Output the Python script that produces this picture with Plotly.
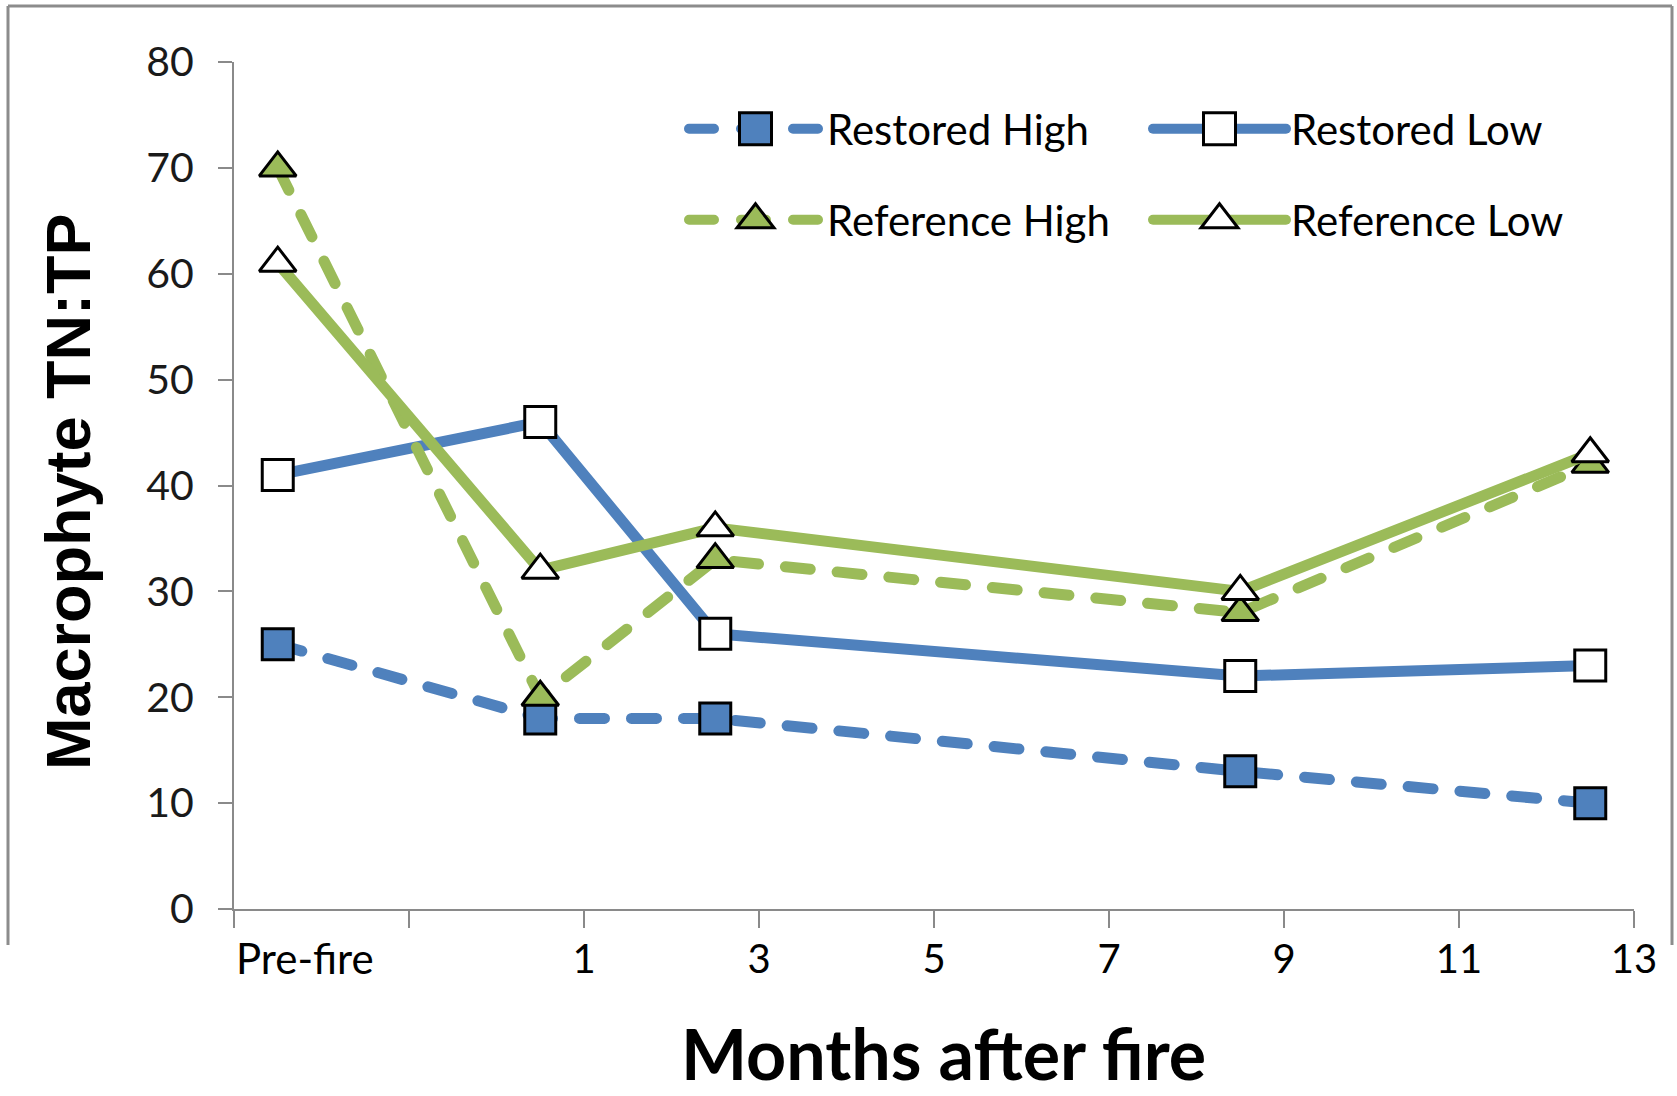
import plotly.graph_objects as go

# Sampling times (months after fire; pre-fire sample plotted at -2.5)
months = [-2.5, 0.5, 2.5, 8.5, 12.5]

# Macrophyte TN:TP ratios per site group
restored_high = [25, 18, 18, 13, 10]
restored_low = [41, 46, 26, 22, 23]
reference_high = [70, 20, 33, 28, 42]
reference_low = [61, 32, 36, 30, 43]

series_names = ["Restored High", "Restored Low", "Reference High", "Reference Low"]

x_tick_vals = [-3, -1, 1, 3, 5, 7, 9, 11, 13]
x_tick_text = ["", "", "1", "3", "5", "7", "9", "11", "13"]
y_tick_vals = [0, 10, 20, 30, 40, 50, 60, 70, 80]

BLUE = "#4f81bd"
GREEN = "#9bbb59"
AXIS_GREY = "#8a8a8a"
DASH = "25px,27px"  # drawn with round caps, so dashes look ~36px with ~16px gaps

W, H = 1677, 1096
ML, MR, MT, MB = 234, 43, 62, 187
PW, PH = W - ML - MR, H - MT - MB


def px_x(p):
    return (p - ML) / PW


def px_y(p):
    return (H - MB - p) / PH


styles = [
    dict(values=restored_high, color=BLUE, dash=DASH, symbol="square", fill=BLUE, legend="legend"),
    dict(values=restored_low, color=BLUE, dash="solid", symbol="square", fill="white", legend="legend"),
    dict(values=reference_high, color=GREEN, dash=DASH, symbol="triangle-up", fill=GREEN, legend="legend2"),
    dict(values=reference_low, color=GREEN, dash="solid", symbol="triangle-up", fill="white", legend="legend2"),
]

fig = go.Figure()
for name, st in zip(series_names, styles):
    fig.add_trace(go.Scatter(
        x=months,
        y=st["values"],
        name=name,
        mode="lines+markers",
        line=dict(color=st["color"], width=11, dash=st["dash"]),
        marker=dict(symbol=st["symbol"], size=31 if st["symbol"] == "square" else 32,
                    color=st["fill"], line=dict(color="black", width=3)),
        cliponaxis=False,
        legend=st["legend"],
    ))

axis_common = dict(
    showgrid=False,
    zeroline=False,
    showline=True,
    linecolor=AXIS_GREY,
    linewidth=2,
    ticks="outside",
    tickcolor=AXIS_GREY,
    tickwidth=2,
)

fig.update_xaxes(
    range=[-3, 13],
    tickmode="array",
    tickvals=x_tick_vals,
    ticktext=x_tick_text,
    ticklen=17,
    tickfont=dict(family="Lato, Open Sans, sans-serif", size=40, color="black"),
    ticklabelstandoff=-3,
    **axis_common,
)
fig.update_yaxes(
    range=[0, 80],
    tickmode="array",
    tickvals=y_tick_vals,
    ticklen=14,
    tickfont=dict(family="Lato, Open Sans, sans-serif", size=41, color="#1a1a1a"),
    ticklabelstandoff=16,
    **axis_common,
)

legend_common = dict(
    orientation="h",
    xanchor="left",
    yanchor="middle",
    font=dict(family="Lato, Open Sans, sans-serif", size=42, color="black"),
    itemwidth=133,
    entrywidth=316,
    bgcolor="rgba(0,0,0,0)",
    borderwidth=0,
    itemclick=False,
    itemdoubleclick=False,
)

border = dict(color="#8c8c8c", width=3)
shapes = [
    dict(type="line", xref="paper", yref="paper", x0=px_x(8), x1=px_x(1672), y0=px_y(6), y1=px_y(6), line=border),
    dict(type="line", xref="paper", yref="paper", x0=px_x(8), x1=px_x(8), y0=px_y(6), y1=px_y(945), line=border),
    dict(type="line", xref="paper", yref="paper", x0=px_x(1672), x1=px_x(1672), y0=px_y(6), y1=px_y(945), line=border),
]

annotations = [
    dict(text="Pre-fire", x=-3, xref="x", y=px_y(958), yref="paper", xanchor="left", yanchor="middle",
         showarrow=False, font=dict(family="Lato, Open Sans, sans-serif", size=42, color="black")),
    dict(text="Months after fire", x=px_x(943), xref="paper", y=px_y(H), yref="paper",
         xanchor="center", yanchor="bottom", showarrow=False, borderpad=0,
         font=dict(family="Lato, Open Sans, sans-serif", size=70, color="black", weight="bold")),
    dict(text="Macrophyte TN:TP", x=px_x(68), xref="paper", y=px_y(492), yref="paper",
         xanchor="center", yanchor="middle", textangle=-90, showarrow=False,
         font=dict(family="Liberation Sans, Arial, sans-serif", size=63, color="black", weight="bold")),
]

fig.update_layout(
    width=W,
    height=H,
    margin=dict(l=ML, r=MR, t=MT, b=MB, pad=0),
    paper_bgcolor="white",
    plot_bgcolor="white",
    showlegend=True,
    legend=dict(x=px_x(684), y=px_y(129), **legend_common),
    legend2=dict(x=px_x(684), y=px_y(220), **legend_common),
    shapes=shapes,
    annotations=annotations,
)

# Round line caps/joins, and legend symbols at the same size as the plotted markers
post = """
var gd = document.getElementById('{plot_id}');
try {
  gd.querySelectorAll('.scatterlayer path.js-line, .legendlines path').forEach(function(p) {
    p.style.strokeLinecap = 'round';
    p.style.strokeLinejoin = 'round';
  });
  gd.querySelectorAll('.legendpoints path.scatterpts').forEach(function(p) {
    var t = p.getAttribute('transform') || '';
    p.setAttribute('transform', t + ' scale(2)');
    p.style.vectorEffect = 'non-scaling-stroke';
  });
} catch (e) {}
"""

fig.write_html("out.html", include_plotlyjs=True, config={"displayModeBar": False}, post_script=post)
